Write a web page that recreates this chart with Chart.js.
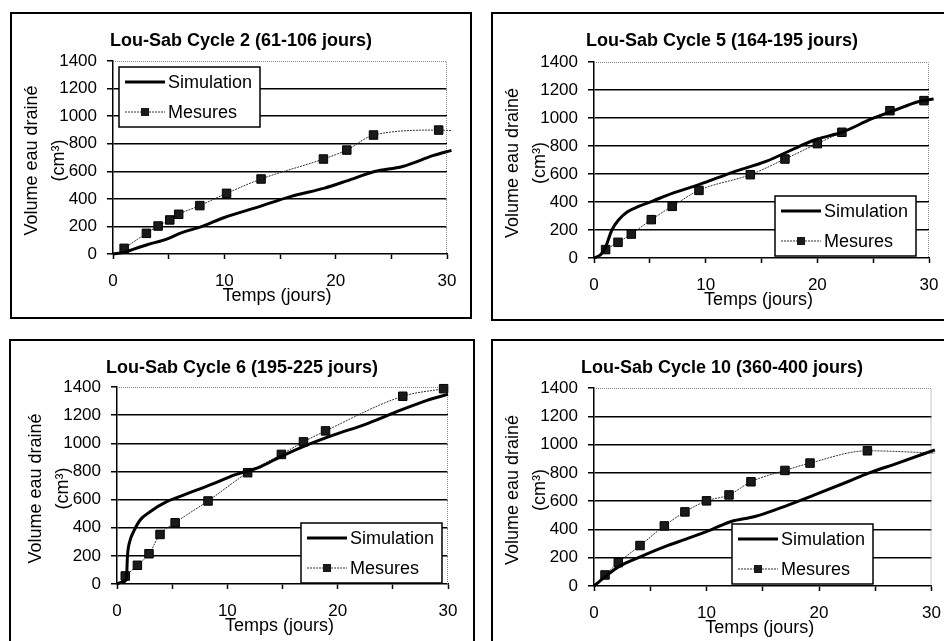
<!DOCTYPE html>
<html>
<head>
<meta charset="utf-8">
<script src="https://cdn.jsdelivr.net/npm/chart.js@4.4.0/dist/chart.umd.min.js"></script>
<style>
body{margin:0;background:#fff;width:944px;height:641px;overflow:hidden;position:relative}
.panel{position:absolute}
.panel canvas{position:absolute;left:0;top:0}
.panel:after{content:'';position:absolute;left:0;top:0;right:0;bottom:0;border:2px solid #000;pointer-events:none}
</style>
</head>
<body>
<div class="panel" id="p1"><canvas id="c1"></canvas></div>
<div class="panel" id="p2"><canvas id="c2"></canvas></div>
<div class="panel" id="p3"><canvas id="c3"></canvas></div>
<div class="panel" id="p4"><canvas id="c4"></canvas></div>
<script>
// valeurs (temps en jours, volume en cm3)
const titles = ['Lou-Sab Cycle 2 (61-106 jours)','Lou-Sab Cycle 5 (164-195 jours)','Lou-Sab Cycle 6 (195-225 jours)','Lou-Sab Cycle 10 (360-400 jours)'];
const seriesNames = ['Simulation','Mesures'];
const yTicks = [0,200,400,600,800,1000,1200,1400];
const xTicks = [0,10,20,30];

// Cycle 2
const simT1 = [0,1,1.8,3,5,6,8,10,13,16,19,21,23.5,26,28.8,30.4];
const simV1 = [0,12,34,65,114,150,200,265,340,418,478,530,598,635,715,752];
const mesT1 = [1.0,3.0,4.05,5.1,5.9,7.8,10.2,13.3,18.9,21.0,23.4,29.25,30.4];
const mesV1 = [41,150,203,247,288,351,440,544,689,754,863,899,895];

// Cycle 5
const simT2 = [0,0.6,1,1.6,2.2,3,4,5.2,7,9.4,12.4,15.4,18.4,20,22.2,24.9,26.7,29.1,30.4];
const simV2 = [0,24,70,200,272,330,368,405,462,524,612,690,798,850,898,995,1048,1118,1135];
const mesT2 = [1.04,2.15,3.34,5.13,7.0,9.4,14.0,17.1,20.0,22.2,26.5,29.55,30.45];
const mesV2 = [60,112,171,274,369,483,595,707,817,898,1052,1124,1136];

// Cycle 6
const simT3 = [0,0.5,0.85,0.95,1.2,1.5,2.1,3,4.5,5.3,6.3,8.8,10.6,13,14.8,17.2,19.6,22.7,25.7,28.1,30];
const simV3 = [0,15,30,200,313,372,455,514,585,610,640,715,774,833,904,987,1058,1140,1235,1305,1348];
const mesT3 = [0.75,1.85,2.9,3.9,5.27,8.25,11.84,14.9,16.9,18.9,25.9,29.6];
const mesV3 = [57,133,215,352,435,590,791,921,1010,1088,1334,1388];

// Cycle 10
const simT4 = [0,1,2.2,4,6.3,8.4,10.5,12.2,14.3,17.3,19.6,22.6,24.4,27,30.3];
const simV4 = [0,66,137,203,279,338,401,456,491,574,644,739,798,869,963];
const mesT4 = [0.98,2.16,4.09,6.25,8.08,10.0,12.0,13.95,16.97,19.2,24.3,30.3];
const mesV4 = [78,165,286,425,524,602,644,737,817,869,956,940];

const FONT = "'Liberation Sans', Arial, sans-serif";
const MARK = 6; // rayon des carrés

// mise en page: boite [x,y,w,h], zone de tracé [gauche,haut,droite,bas], légende [x,y]
const panels = [
  {id:'c1', box:[10,12,462,307], area:[103,49,437,242], leg:[109,55], sim:[simT1,simV1], mes:[mesT1,mesV1], title:titles[0]},
  {id:'c2', box:[491,12,462,309], area:[103,50,438,246], leg:[284,184], sim:[simT2,simV2], mes:[mesT2,mesV2], title:titles[1]},
  {id:'c3', box:[9,339,466,305], area:[108,48,439,245], leg:[292,184], sim:[simT3,simV3], mes:[mesT3,mesV3], title:titles[2]},
  {id:'c4', box:[491,339,462,305], area:[103,49,441,247], leg:[241,185], sim:[simT4,simV4], mes:[mesT4,mesV4], title:titles[3]}
];

function pts(t, v){ return t.map((x,i)=>({x:x, y:v[i]})); }

const decor = {
  id:'decor',
  beforeDatasetsDraw(chart){
    const {ctx, chartArea:a} = chart;
    ctx.save();
    ctx.strokeStyle = '#888'; ctx.lineWidth = 1; ctx.setLineDash([1,1]);
    ctx.beginPath();
    ctx.moveTo(a.left, a.top+0.5);
    ctx.lineTo(a.right-0.5, a.top+0.5);
    ctx.lineTo(a.right-0.5, a.bottom);
    ctx.stroke();
    ctx.restore();
  },
  afterDraw(chart, args, o){
    const {ctx, chartArea:a} = chart;
    ctx.save();
    ctx.fillStyle = '#000';
    // titre
    ctx.font = 'bold 18px ' + FONT;
    ctx.textAlign = 'center'; ctx.textBaseline = 'middle';
    ctx.fillText(o.title, chart.width/2, 29);
    // titre axe x
    ctx.font = '18px ' + FONT;
    ctx.fillText('Temps (jours)', (a.left+a.right)/2 - 3, a.bottom + 42);
    // titre axe y (2 lignes)
    const cy = (a.top+a.bottom)/2 + 3;
    ctx.save(); ctx.translate(a.left-81, cy); ctx.rotate(-Math.PI/2);
    ctx.fillText('Volume eau drainé', 0, 0); ctx.restore();
    ctx.save(); ctx.translate(a.left-54, cy); ctx.rotate(-Math.PI/2);
    ctx.fillText('(cm³)', 0, 0); ctx.restore();
    // légende
    const lx = o.leg[0], ly = o.leg[1], lw = 141, lh = 60;
    ctx.fillStyle = '#fff'; ctx.fillRect(lx, ly, lw, lh);
    ctx.strokeStyle = '#000'; ctx.lineWidth = 1.5; ctx.setLineDash([]);
    ctx.strokeRect(lx, ly, lw, lh);
    const ds = chart.data.datasets;
    ds.forEach((d, i)=>{
      const yy = ly + 15 + i*30;
      ctx.strokeStyle = d.borderColor; ctx.lineWidth = d.borderWidth;
      ctx.setLineDash(d.borderDash || []);
      ctx.beginPath(); ctx.moveTo(lx+6, yy); ctx.lineTo(lx+46, yy); ctx.stroke();
      ctx.setLineDash([]);
      if (d.pointStyle === 'rect') {
        ctx.fillStyle = d.pointBackgroundColor;
        ctx.fillRect(lx+26-4, yy-4, 8, 8);
      }
      ctx.fillStyle = '#000'; ctx.textAlign = 'left'; ctx.font = '18px ' + FONT;
      ctx.fillText(d.label, lx+49, yy+1);
    });
    ctx.restore();
  }
};

panels.forEach(p=>{
  const div = document.getElementById('p' + p.id.slice(1));
  div.style.left = p.box[0] + 'px'; div.style.top = p.box[1] + 'px';
  div.style.width = p.box[2] + 'px'; div.style.height = p.box[3] + 'px';
  const cv = document.getElementById(p.id);
  cv.width = p.box[2]; cv.height = p.box[3];
  const YW = 60, XH = 45;
  new Chart(cv.getContext('2d'), {
    type:'line',
    data:{
      datasets:[
        {
          label: seriesNames[0],
          data: pts(p.sim[0], p.sim[1]),
          borderColor:'#000', borderWidth:3,
          pointRadius:0, cubicInterpolationMode:'monotone',
          clip:{left:2, top:2, right:15, bottom:2}
        },
        {
          label: seriesNames[1],
          data: pts(p.mes[0], p.mes[1]),
          borderColor:'#333', borderWidth:1, borderDash:[2,1],
          pointStyle:'rect',
          pointRadius: ctx => p.mes[0][ctx.dataIndex] <= 30 ? MARK : 0,
          pointBackgroundColor:'#1a1a1a', pointBorderColor:'#000', pointBorderWidth:1,
          cubicInterpolationMode:'monotone',
          clip:{left:2, top:8, right:15, bottom:8}
        }
      ]
    },
    options:{
      responsive:false, animation:false,
      layout:{padding:{left:p.area[0]-YW, top:p.area[1], right:p.box[2]-p.area[2], bottom:p.box[3]-p.area[3]-XH}},
      plugins:{
        legend:{display:false}, tooltip:{enabled:false},
        decor:{title:p.title, leg:p.leg}
      },
      scales:{
        x:{
          type:'linear', min:0, max:30,
          afterFit: s => { s.height = XH; },
          afterBuildTicks: s => { s.ticks = [0,5,10,15,20,25,30].map(v=>({value:v})); },
          ticks:{
            autoSkip:false, maxRotation:0, padding:12, color:'#000',
            font:{family:FONT, size:17},
            callback: v => xTicks.includes(v) ? String(v) : ''
          },
          grid:{drawOnChartArea:false, tickLength:5, tickColor:'#000', tickWidth:1.5, color:'#000'},
          border:{color:'#000', width:1.5}
        },
        y:{
          min:0, max:1400,
          afterFit: s => { s.width = YW; },
          afterBuildTicks: s => { s.ticks = yTicks.map(v=>({value:v})); },
          ticks:{padding:10, color:'#000', font:{family:FONT, size:17}, callback: v => String(v)},
          grid:{
            color: c => (c.tick && c.tick.value > 0 && c.tick.value < 1400) ? '#000' : 'rgba(0,0,0,0)',
            lineWidth:1.5, tickLength:6, tickColor:'#000', tickWidth:1.5
          },
          border:{color:'#000', width:1.5}
        }
      }
    },
    plugins:[decor]
  });
});
</script>
</body>
</html>
